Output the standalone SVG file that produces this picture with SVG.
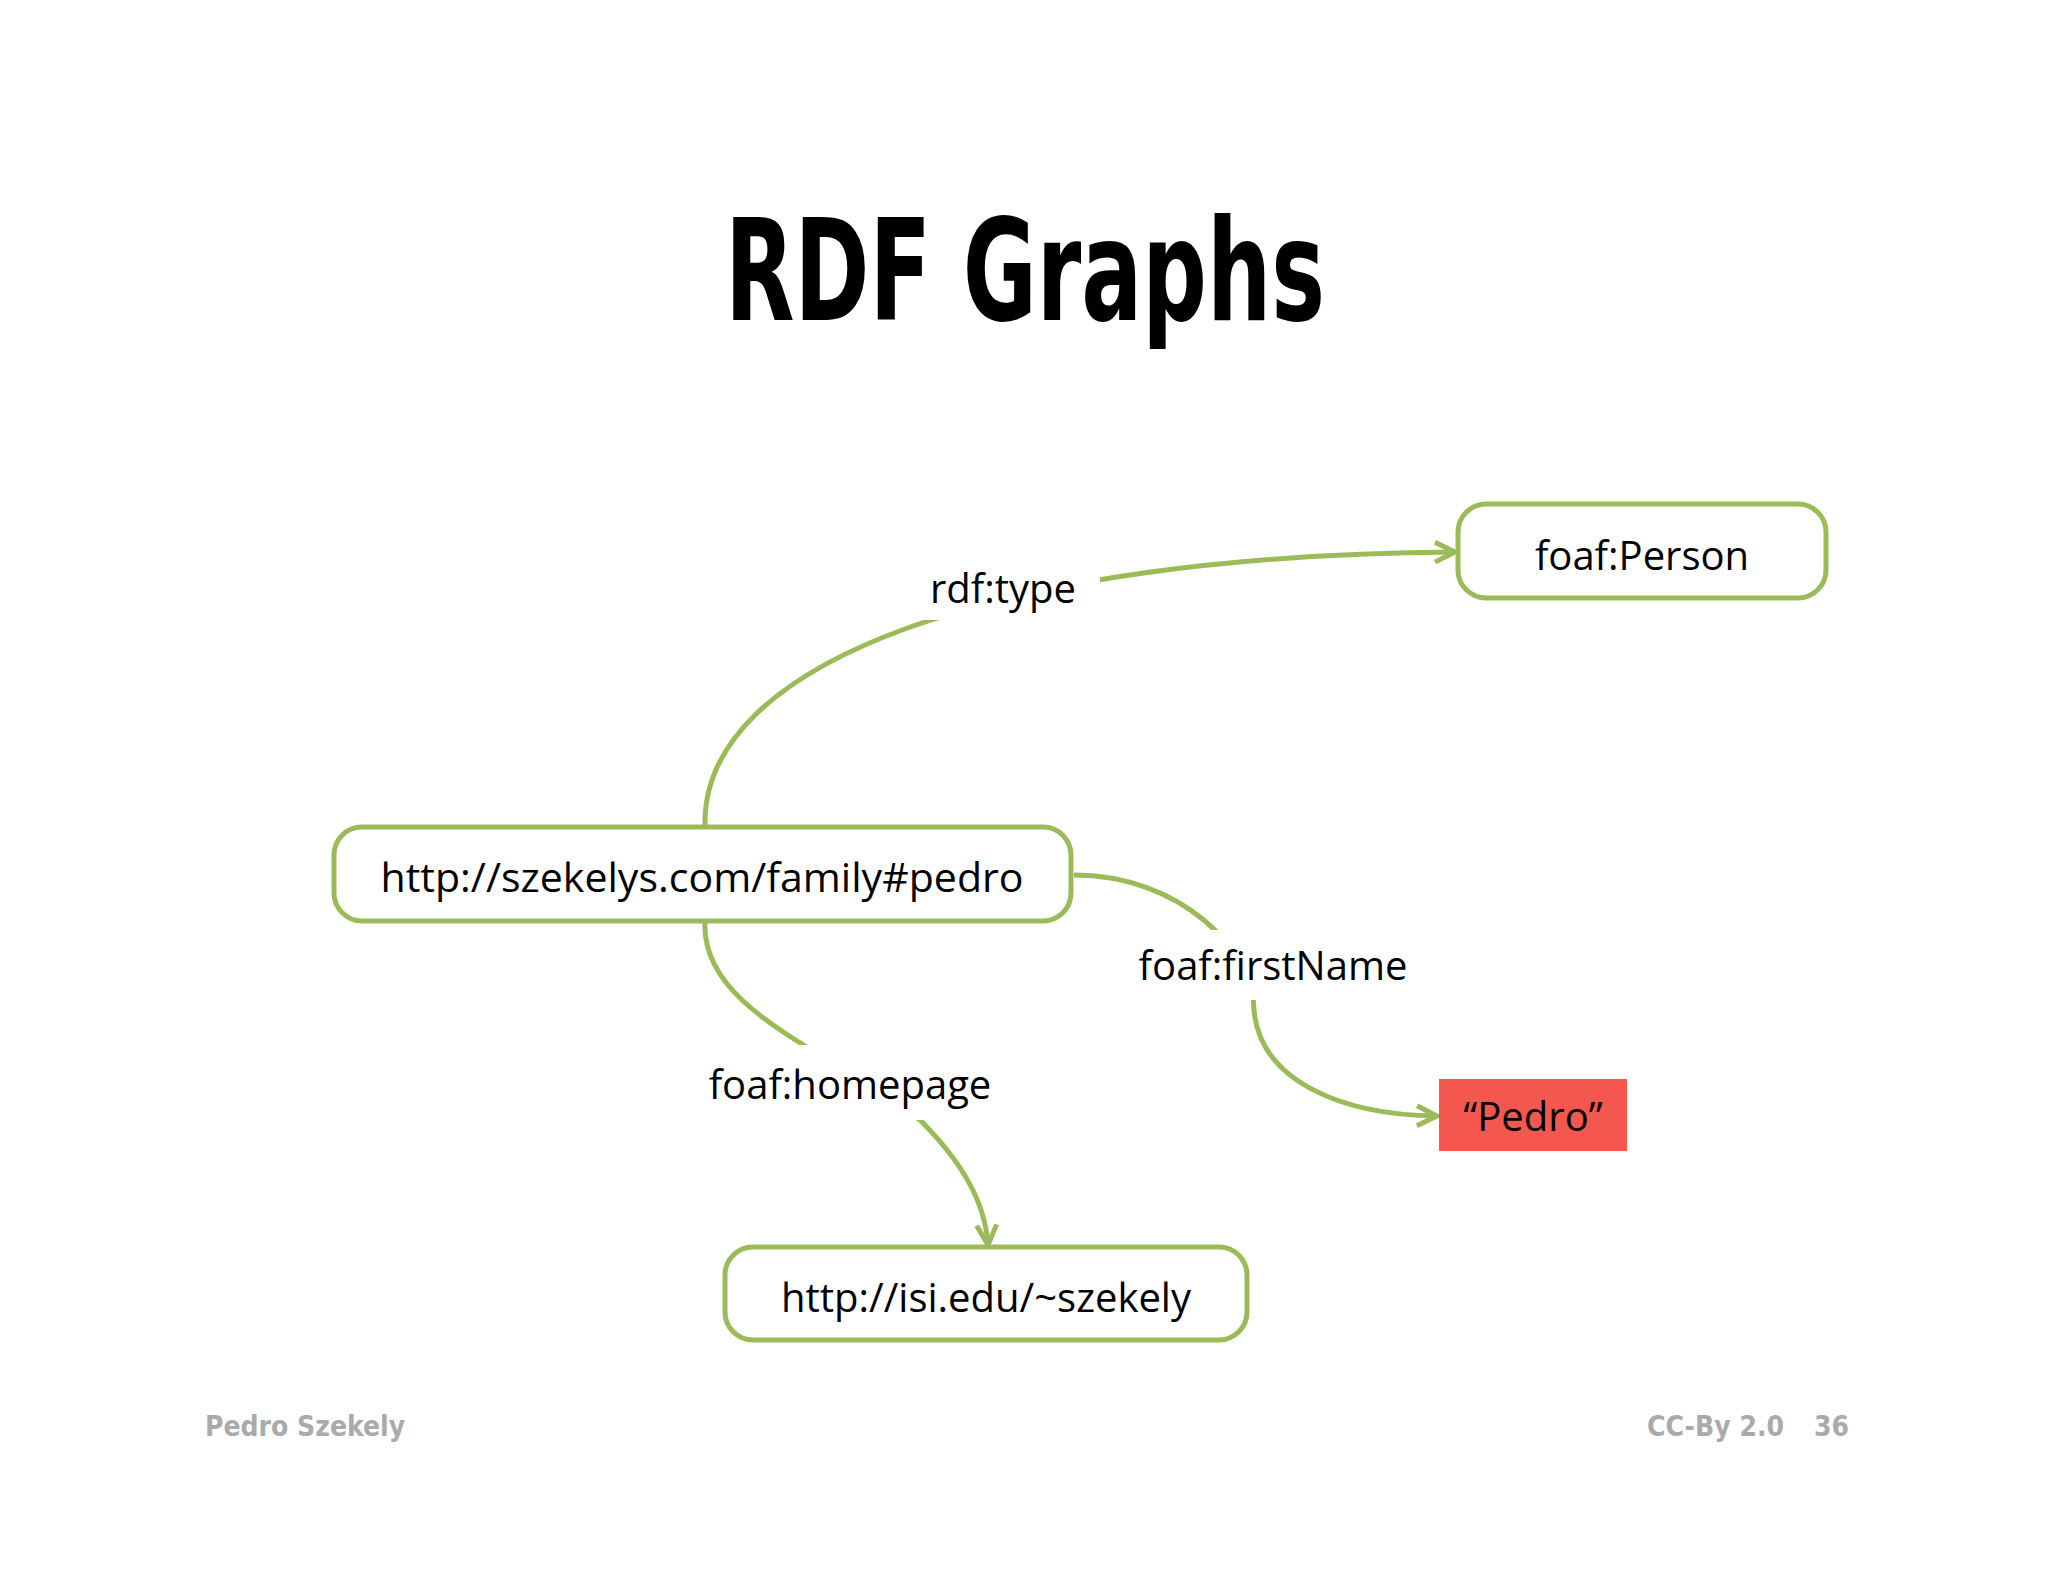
<svg xmlns="http://www.w3.org/2000/svg" width="2048" height="1582" viewBox="0 0 2048 1582">
<style>
.box{fill:#fff;stroke:#9BBB59;stroke-width:5}
.t{font-family:"Open Sans","Liberation Sans",sans-serif;font-size:40px;fill:#000;text-anchor:middle}
.c{fill:none;stroke:#9BBB59;stroke-width:5}
.f{font-family:"DejaVu Sans Condensed","DejaVu Sans",sans-serif;font-weight:bold;font-size:28px;fill:#aaa}
</style>
<defs>
<marker id="a" viewBox="0 0 10 10" refX="9" refY="5" markerWidth="5" markerHeight="5" orient="auto" markerUnits="strokeWidth">
<path d="M1,1 L9,5 L1,9" fill="none" stroke="#9BBB59" stroke-width="2"/>
</marker>
</defs>
<rect width="2048" height="1582" fill="#fff"/>
<text x="1025" y="320" font-family="DejaVu Sans Condensed,DejaVu Sans,sans-serif" font-weight="bold" font-size="140" text-anchor="middle" textLength="600" lengthAdjust="spacingAndGlyphs">RDF Graphs</text>
<g id="connectors">
<path class="c" marker-end="url(#a)" d="M705,827 C700,660 1000,555 1455,552"/>
<path class="c" marker-end="url(#a)" d="M1074,875 C1180,875 1254,950 1254,1010 C1260,1080 1340,1115 1437,1116"/>
<path class="c" marker-end="url(#a)" d="M705,921 C700,1010 830,1050 920,1120 C960,1160 985,1200 988,1245"/>
<rect x="920" y="560" width="180" height="60" fill="#fff"/>
<rect x="1130" y="930" width="290" height="70" fill="#fff"/>
<rect x="690" y="1045" width="320" height="75" fill="#fff"/>
<text class="t" x="1003" y="603">rdf:type</text>
<text class="t" x="1273" y="980">foaf:firstName</text>
<text class="t" x="850" y="1099">foaf:homepage</text>
</g>
<g id="person"><rect class="box" x="1458" y="504" width="368" height="94" rx="28"/><text class="t" x="1642" y="570">foaf:Person</text></g>
<g id="pedro"><rect class="box" x="334" y="827" width="737" height="94" rx="28"/><text class="t" x="702" y="892" textLength="643" lengthAdjust="spacingAndGlyphs">http://szekelys.com/family#pedro</text></g>
<g id="isi"><rect class="box" x="725" y="1247" width="522" height="93" rx="28"/><text class="t" x="986" y="1312">http://isi.edu/~szekely</text></g>
<g id="literal"><rect x="1439" y="1079" width="188" height="72" fill="#F4574E"/><text class="t" x="1533" y="1131">“Pedro”</text></g>
<text class="f" x="205" y="1436">Pedro Szekely</text>
<text class="f" x="1647" y="1436">CC-By 2.0</text>
<text class="f" x="1814" y="1436">36</text>
</svg>
